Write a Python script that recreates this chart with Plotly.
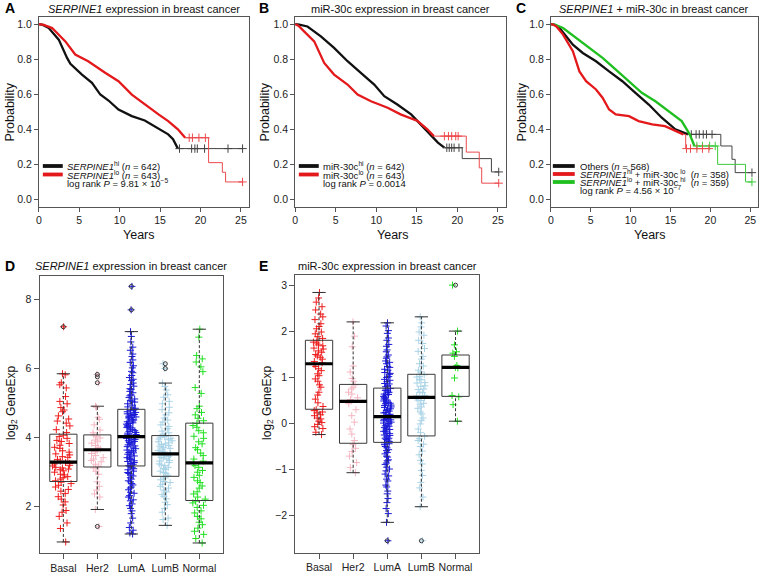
import plotly.graph_objects as go

W, H = 764, 577
FONT = "Liberation Sans, Arial, sans-serif"
RED, BLACK, GREEN = "#e3191c", "#111111", "#1fbf1f"
AX = "#555555"

# ---------------- Kaplan-Meier data ----------------
# Panel A  (SERPINE1 hi / lo)
A_hi_t = [0, 0.5, 1.23, 2.46, 3.49, 3.9, 5.33, 6.57, 7.6, 8.62, 9.85, 11.5, 13.1, 14.7, 16.0, 16.6, 17.2]
A_hi_s = [1.0, 0.995, 0.977, 0.911, 0.807, 0.773, 0.712, 0.665, 0.598, 0.564, 0.512, 0.475, 0.45, 0.409, 0.371, 0.343, 0.29]
A_hi_tail_t = [17.2, 25.2]
A_hi_tail_s = [0.29, 0.29]
A_hi_cens_t = [17.4, 18.9, 19.3, 19.6, 20.5, 23.4, 25.2]
A_hi_cens_s = [0.29, 0.29, 0.29, 0.29, 0.29, 0.29, 0.29]

A_lo_t = [0, 0.6, 1.64, 3.28, 4.5, 6.1, 8.2, 9.85, 11.5, 13.1, 14.8, 16.0, 17.2, 18.1]
A_lo_s = [1.0, 0.995, 0.977, 0.901, 0.826, 0.788, 0.722, 0.674, 0.598, 0.541, 0.485, 0.447, 0.4, 0.352]
A_lo_tail_t = [18.1, 21.0, 22.7, 23.1, 25.2]
A_lo_tail_s = [0.352, 0.21, 0.155, 0.10, 0.10]
A_lo_cens_t = [18.6, 19.0, 19.8, 20.6, 25.2]
A_lo_cens_s = [0.352, 0.352, 0.352, 0.352, 0.10]

# Panel B  (miR-30c hi / lo)
B_hi_t = [0, 0.5, 1.52, 3.17, 4.8, 6.46, 8.1, 9.75, 10.99, 12.6, 14.3, 15.5, 16.5, 17.6, 18.4]
B_hi_s = [1.0, 0.997, 0.986, 0.93, 0.864, 0.788, 0.722, 0.655, 0.589, 0.541, 0.485, 0.428, 0.38, 0.324, 0.295]
B_hi_tail_t = [18.4, 20.6, 24.2, 25.1]
B_hi_tail_s = [0.295, 0.233, 0.157, 0.157]
B_hi_cens_t = [18.7, 19.0, 19.3, 19.6, 20.2, 25.1]
B_hi_cens_s = [0.295, 0.295, 0.295, 0.295, 0.295, 0.157]

B_lo_t = [0, 0.4, 1.1, 2.35, 3.58, 4.8, 6.46, 7.7, 9.35, 11.4, 13.0, 15.1, 16.3, 17.1]
B_lo_s = [1.0, 0.99, 0.958, 0.901, 0.778, 0.712, 0.655, 0.598, 0.56, 0.523, 0.485, 0.447, 0.4, 0.361]
B_lo_tail_t = [17.1, 21.1, 22.7, 23.0, 25.1]
B_lo_tail_s = [0.361, 0.27, 0.18, 0.093, 0.093]
B_lo_cens_t = [18.4, 18.9, 19.3, 19.8, 20.1, 25.1]
B_lo_cens_s = [0.361, 0.361, 0.361, 0.361, 0.361, 0.093]

# Panel C  (combined)
C_oth_t = [0, 0.5, 1.1, 2.76, 4.0, 5.66, 7.3, 8.96, 10.6, 12.27, 13.9, 15.6, 17.2]
C_oth_s = [1.0, 0.995, 0.977, 0.882, 0.835, 0.788, 0.73, 0.674, 0.608, 0.541, 0.466, 0.4, 0.371]
C_oth_tail_t = [17.2, 21.3, 22.7, 23.1, 25.2]
C_oth_tail_s = [0.371, 0.305, 0.229, 0.153, 0.153]
C_oth_cens_t = [17.6, 18.2, 18.6, 19.1, 19.5, 20.2, 25.2]
C_oth_cens_s = [0.371, 0.371, 0.371, 0.371, 0.371, 0.371, 0.153]

C_hilo_t = [0, 0.3, 0.7, 1.53, 2.76, 3.58, 4.42, 5.66, 6.48, 7.3, 8.14, 9.8, 11.0, 12.7, 14.3, 15.6, 16.6]
C_hilo_s = [1.0, 0.997, 0.986, 0.94, 0.845, 0.73, 0.674, 0.627, 0.58, 0.513, 0.485, 0.475, 0.447, 0.428, 0.418, 0.39, 0.371]
C_hilo_tail_t = [16.6, 16.9, 19.8]
C_hilo_tail_s = [0.371, 0.29, 0.29]
C_hilo_cens_t = [17.0, 17.5, 18.3, 19.0, 19.8]
C_hilo_cens_s = [0.29, 0.29, 0.29, 0.29, 0.29]

C_lohi_t = [0, 0.5, 1.53, 3.18, 4.83, 6.48, 8.14, 9.79, 11.4, 13.1, 14.7, 16.4, 17.4, 18.0]
C_lohi_s = [1.0, 0.997, 0.977, 0.92, 0.864, 0.807, 0.74, 0.674, 0.608, 0.56, 0.503, 0.447, 0.371, 0.305]
C_lohi_tail_t = [18.0, 20.9, 24.4, 25.2]
C_lohi_tail_s = [0.305, 0.2, 0.1, 0.1]
C_lohi_cens_t = [18.3, 19.0, 19.9, 20.6, 25.2]
C_lohi_cens_s = [0.305, 0.305, 0.305, 0.305, 0.1]

# ---------------- Box plot data ----------------
subtypes = ["Basal", "Her2", "LumA", "LumB", "Normal"]
sub_colors = ["#ee1c1c", "#f4b6c2", "#1a1ad6", "#a9d3e6", "#22e022"]

# Panel D: SERPINE1 log2 expression
D_q1 = [2.72, 3.14, 3.17, 2.87, 2.17]
D_med = [3.28, 3.64, 4.02, 3.52, 3.26]
D_q3 = [4.09, 4.07, 4.81, 4.05, 4.41]
D_lo = [0.97, 1.91, 1.20, 1.45, 0.94]
D_hi = [5.84, 4.90, 7.06, 5.57, 7.13]
D_out_x = ["Basal", "Her2", "Her2", "Her2", "Her2", "LumA", "LumA", "LumB", "LumB"]
D_out_y = [7.2, 5.82, 5.75, 5.58, 1.42, 8.37, 7.69, 6.13, 5.99]

D_basal = [0.97, 1.36, 1.52, 1.71, 1.83, 1.88, 2.04, 2.13, 2.21, 2.28, 2.37, 2.44, 2.49, 2.56, 2.61, 2.66, 2.70,
           2.74, 2.79, 2.86, 2.91, 2.93, 2.99, 3.03, 3.06, 3.11, 3.13, 3.17, 3.19, 3.23, 3.24, 3.27, 3.08, 2.83,
           3.31, 3.36, 3.42, 3.44, 3.52, 3.57, 3.61, 3.68, 3.71, 3.77, 3.82, 3.88, 3.91, 3.97, 4.02, 4.06, 3.49,
           4.14, 4.22, 4.33, 4.41, 4.47, 4.53, 4.62, 4.74, 4.79, 4.86, 4.97, 5.04, 5.18, 5.43, 5.52, 5.58, 5.81,
           5.84, 7.2]
D_her2 = [1.42, 1.91, 2.27, 2.36, 2.47, 2.58, 2.71, 2.93, 3.02, 3.11, 3.16, 3.22, 3.29, 3.33, 3.37, 3.41, 3.47,
          3.53, 3.58, 3.62, 3.66, 3.71, 3.76, 3.83, 3.87, 3.92, 3.98, 4.03, 4.07, 4.13, 4.21, 4.36, 4.52, 4.58,
          4.87, 4.9, 5.58, 5.82]
D_luma = [1.2, 1.23, 1.31, 1.39, 1.52, 1.66, 1.79, 1.87, 1.94, 2.02, 2.07, 2.16, 2.19, 2.27, 2.31, 2.38, 2.41,
          2.48, 2.53, 2.56, 2.62, 2.66, 2.71, 2.74, 2.79, 2.83, 2.88, 2.91, 2.95, 2.98, 3.02, 3.06, 3.09, 3.12,
          3.15, 3.18, 3.22, 3.24, 3.27, 3.3, 3.32, 3.36, 3.38, 3.41, 3.43, 3.46, 3.49, 3.51, 3.55, 3.56, 3.6,
          3.61, 3.63, 3.67, 3.69, 3.73, 3.75, 3.78, 3.8, 3.83, 3.85, 3.88, 3.9, 3.93, 3.94, 3.97, 3.98, 4.0,
          4.01, 4.03, 4.05, 4.07, 4.08, 4.12, 4.14, 4.17, 4.19, 4.22, 4.24, 4.28, 4.29, 4.32, 4.33, 4.35, 4.38,
          4.4, 4.42, 4.45, 4.47, 4.5, 4.52, 4.56, 4.57, 4.59, 4.61, 4.63, 4.66, 4.68, 4.7, 4.72, 4.74, 4.77,
          4.79, 4.8, 4.84, 4.88, 4.93, 4.97, 5.02, 5.03, 5.07, 5.11, 5.15, 5.2, 5.23, 5.29, 5.33, 5.38, 5.41,
          5.48, 5.53, 5.57, 5.64, 5.68, 5.73, 5.79, 5.87, 5.91, 6.01, 6.07, 6.17, 6.24, 6.34, 6.41, 6.52, 6.61,
          6.76, 6.92, 7.06, 7.69, 8.37]
D_lumb = [1.45, 1.62, 1.66, 1.83, 1.94, 2.05, 2.12, 2.22, 2.29, 2.34, 2.42, 2.47, 2.53, 2.58, 2.64, 2.69, 2.72,
          2.77, 2.82, 2.86, 2.9, 2.95, 2.98, 3.02, 3.07, 3.1, 3.13, 3.18, 3.2, 3.23, 3.27, 3.31, 3.33, 3.37,
          3.4, 3.42, 3.45, 3.48, 3.5, 3.51, 3.54, 3.57, 3.59, 3.62, 3.66, 3.68, 3.71, 3.74, 3.76, 3.79, 3.81,
          3.84, 3.87, 3.9, 3.93, 3.95, 3.97, 4.0, 4.02, 4.04, 4.09, 4.13, 4.18, 4.25, 4.31, 4.36, 4.44, 4.5,
          4.56, 4.65, 4.71, 4.8, 4.87, 4.97, 5.04, 5.16, 5.23, 5.37, 5.47, 5.57, 5.99, 6.13]
D_normal = [0.94, 1.07, 1.19, 1.28, 1.37, 1.47, 1.54, 1.64, 1.71, 1.81, 1.87, 1.97, 2.03, 2.1, 2.15,
            2.21, 2.27, 2.36, 2.42, 2.53, 2.59, 2.69, 2.74, 2.84, 2.9, 2.99, 3.04, 3.13, 3.18, 3.24,
            3.31, 3.37, 3.47, 3.54, 3.64, 3.7, 3.81, 3.87, 3.97, 4.03, 4.13, 4.19, 4.29, 4.34, 4.4,
            4.48, 4.55, 4.65, 4.72, 4.83, 4.9, 5.27, 5.44, 5.9, 6.04, 6.18, 6.27, 6.37, 6.9, 7.13]

# Panel E: miR-30c log2 expression
E_q1 = [0.30, -0.44, -0.42, -0.28, 0.58]
E_med = [1.29, 0.47, 0.14, 0.56, 1.21]
E_q3 = [1.80, 0.84, 0.76, 1.06, 1.48]
E_lo = [-0.25, -1.08, -2.16, -1.82, 0.04]
E_hi = [2.84, 2.20, 2.18, 2.31, 2.00]
E_out_x = ["LumA", "LumB", "Normal"]
E_out_y = [-2.56, -2.56, 3.0]

E_basal = [-0.25, -0.2, -0.12, -0.08, -0.03, 0.01, 0.04, 0.09, 0.11, 0.16, 0.18, 0.22, 0.24, 0.27, 0.29,
           0.36, 0.44, 0.52, 0.61, 0.67, 0.78, 0.83, 0.91, 0.96, 1.03, 1.07, 1.14, 1.18, 1.23, 1.27,
           1.31, 1.34, 1.39, 1.43, 1.46, 1.49, 1.54, 1.57, 1.61, 1.63, 1.68, 1.7, 1.74, 1.76, 1.79,
           1.84, 1.88, 1.94, 1.98, 2.05, 2.1, 2.16, 2.25, 2.31, 2.37, 2.46, 2.53, 2.63, 2.72, 2.84]
E_her2 = [-1.08, -0.97, -0.86, -0.72, -0.62, -0.55, -0.47, -0.38, -0.24, -0.13, 0.02, 0.16, 0.29, 0.42,
          0.51, 0.55, 0.63, 0.67, 0.74, 0.78, 0.83, 0.91, 0.97, 1.11, 1.24, 1.66, 1.89, 2.2]
E_luma = [-2.56, -2.16, -1.97, -1.86, -1.73, -1.64, -1.54, -1.48, -1.39, -1.35, -1.26, -1.22, -1.15, -1.11,
          -1.04, -1.0, -0.96, -0.9, -0.87, -0.82, -0.8, -0.74, -0.72, -0.67, -0.64, -0.6, -0.58, -0.54,
          -0.51, -0.47, -0.45, -0.43, -0.4, -0.37, -0.36, -0.33, -0.33, -0.3, -0.27, -0.26, -0.23, -0.22,
          -0.19, -0.18, -0.15, -0.14, -0.11, -0.1, -0.07, -0.06, -0.04, -0.01, 0.0, 0.02, 0.04, 0.05, 0.07,
          0.08, 0.09, 0.11, 0.12, 0.13, 0.15, 0.18, 0.19, 0.22, 0.23, 0.26, 0.27, 0.3, 0.31, 0.34, 0.35, 0.38,
          0.39, 0.42, 0.43, 0.44, 0.46, 0.48, 0.5, 0.52, 0.54, 0.55, 0.58, 0.59, 0.62, 0.63, 0.66, 0.67,
          0.7, 0.71, 0.74, 0.75, 0.79, 0.81, 0.85, 0.86, 0.9, 0.93, 0.95, 0.99, 1.01, 1.06, 1.08, 1.1,
          1.15, 1.17, 1.21, 1.23, 1.29, 1.32, 1.35, 1.41, 1.44, 1.48, 1.55, 1.59, 1.67, 1.71, 1.8, 1.85,
          1.95, 2.01, 2.11, 2.18]
E_lumb = [-2.56, -1.82, -1.61, -1.41, -1.29, -1.14, -1.03, -0.89, -0.81, -0.69, -0.61, -0.51, -0.46, -0.38,
          -0.34, -0.29, -0.21, -0.13, -0.02, 0.06, 0.11, 0.2, 0.24, 0.32, 0.35, 0.41, 0.43, 0.49, 0.5,
          0.54, 0.55, 0.59, 0.6, 0.66, 0.67, 0.73, 0.74, 0.8, 0.81, 0.87, 0.88, 0.94, 0.95, 1.0, 1.01, 1.05,
          1.11, 1.15, 1.24, 1.29, 1.39, 1.45, 1.56, 1.62, 1.73, 1.8, 1.91, 1.98, 2.09, 2.18, 2.31]
E_normal = [0.04, 0.4, 0.57, 0.6, 0.98, 1.2, 1.21, 1.25, 1.45, 1.52, 1.55, 1.7, 2.0, 3.0]


# ---------------- helpers (positions only) ----------------
def px(x):
    return x / W


def py(y):
    return 1 - y / H


fig = go.Figure()


def km_curve(t, s, tt, ts, ct, cs, color, tailcolor, xa, ya):
    fig.add_trace(go.Scatter(x=t, y=s, mode="lines", line=dict(color=color, width=2.3),
                             xaxis=xa, yaxis=ya, showlegend=False, hoverinfo="skip"))
    fig.add_trace(go.Scatter(x=tt, y=ts, mode="lines", line=dict(color=tailcolor, width=1, shape="hv"),
                             xaxis=xa, yaxis=ya, showlegend=False, hoverinfo="skip"))
    fig.add_trace(go.Scatter(x=ct, y=cs, mode="markers",
                             marker=dict(symbol="cross-thin-open", size=6, color=tailcolor,
                                         line=dict(width=1, color=tailcolor)),
                             xaxis=xa, yaxis=ya, showlegend=False, hoverinfo="skip"))


km_curve(A_hi_t, A_hi_s, A_hi_tail_t, A_hi_tail_s, A_hi_cens_t, A_hi_cens_s, BLACK, "#444444", "x", "y")
km_curve(A_lo_t, A_lo_s, A_lo_tail_t, A_lo_tail_s, A_lo_cens_t, A_lo_cens_s, RED, "#ec4a4d", "x", "y")
km_curve(B_hi_t, B_hi_s, B_hi_tail_t, B_hi_tail_s, B_hi_cens_t, B_hi_cens_s, BLACK, "#444444", "x2", "y2")
km_curve(B_lo_t, B_lo_s, B_lo_tail_t, B_lo_tail_s, B_lo_cens_t, B_lo_cens_s, RED, "#ec4a4d", "x2", "y2")
km_curve(C_oth_t, C_oth_s, C_oth_tail_t, C_oth_tail_s, C_oth_cens_t, C_oth_cens_s, BLACK, "#444444", "x3", "y3")
km_curve(C_lohi_t, C_lohi_s, C_lohi_tail_t, C_lohi_tail_s, C_lohi_cens_t, C_lohi_cens_s, GREEN, "#3ccc3c", "x3", "y3")
km_curve(C_hilo_t, C_hilo_s, C_hilo_tail_t, C_hilo_tail_s, C_hilo_cens_t, C_hilo_cens_s, RED, "#ec4a4d", "x3", "y3")


def box_panel(groups, q1, med, q3, lo, hi, out_x, out_y, jit, xa, ya):
    wx, wy = [], []
    for c, a, b, d, e in zip(subtypes, lo, q1, q3, hi):
        wx += [c, c, None, c, c, None]
        wy += [a, b, None, d, e, None]
    fig.add_trace(go.Scatter(x=wx, y=wy, mode="lines", line=dict(color="#333333", width=1, dash="3px,2px"),
                             xaxis=xa, yaxis=ya, showlegend=False, hoverinfo="skip"))
    for c, vals, col, j in zip(subtypes, groups, sub_colors, jit):
        fig.add_trace(go.Box(y=vals, x0=c, name=c, boxpoints="all", jitter=j, pointpos=0, width=0.8,
                             line=dict(width=0, color="rgba(0,0,0,0)"), fillcolor="rgba(0,0,0,0)",
                             marker=dict(symbol="cross-thin-open", size=5, color=col, line=dict(width=1, color=col)),
                             xaxis=xa, yaxis=ya, showlegend=False, hoverinfo="skip"))
    fig.add_trace(go.Box(x=subtypes, q1=q1, median=med, q3=q3, lowerfence=q1, upperfence=q3,
                         width=0.8, whiskerwidth=0, boxpoints=False,
                         line=dict(color="#3a3a3a", width=1), fillcolor="rgba(0,0,0,0)",
                         xaxis=xa, yaxis=ya, showlegend=False, hoverinfo="skip"))
    fig.add_trace(go.Scatter(x=subtypes, y=med, mode="markers",
                             marker=dict(symbol="line-ew", size=19.5, line=dict(width=3.2, color="#000000")),
                             xaxis=xa, yaxis=ya, showlegend=False, hoverinfo="skip"))
    fig.add_trace(go.Scatter(x=subtypes + subtypes, y=lo + hi, mode="markers",
                             marker=dict(symbol="line-ew", size=9.5, line=dict(width=1, color="#333333")),
                             xaxis=xa, yaxis=ya, showlegend=False, hoverinfo="skip"))
    fig.add_trace(go.Scatter(x=out_x, y=out_y, mode="markers",
                             marker=dict(symbol="circle-open", size=4, color="#333333", line=dict(width=1)),
                             xaxis=xa, yaxis=ya, showlegend=False, hoverinfo="skip"))


box_panel([D_basal, D_her2, D_luma, D_lumb, D_normal], D_q1, D_med, D_q3, D_lo, D_hi, D_out_x, D_out_y,
          [0.85, 0.5, 0.4, 0.55, 0.5], "x4", "y4")
box_panel([E_basal, E_her2, E_luma, E_lumb, E_normal], E_q1, E_med, E_q3, E_lo, E_hi, E_out_x, E_out_y,
          [0.45, 0.4, 0.32, 0.4, 0.35], "x5", "y5")

# ---------------- axes ----------------
tickfont = dict(family=FONT, size=10.5, color="#222")


def axstyle(**kw):
    d = dict(showline=True, mirror=True, linecolor=AX, linewidth=1, ticks="outside", ticklen=4,
             tickcolor=AX, tickwidth=1, showgrid=False, zeroline=False, tickfont=tickfont, fixedrange=True)
    d.update(kw)
    return d


km_x = dict(range=[0, 26], tickvals=[0, 5, 10, 15, 20, 25])
km_y = dict(range=[-0.04, 1.04], tickvals=[0, 0.2, 0.4, 0.6, 0.8, 1.0], tickformat=".1f")

layout = dict(
    width=W, height=H, margin=dict(l=0, r=0, t=0, b=0),
    paper_bgcolor="white", plot_bgcolor="white", boxmode="overlay",
    font=dict(family=FONT, color="#222"),
    xaxis=axstyle(domain=[px(36), px(247)], anchor="y", **km_x),
    yaxis=axstyle(domain=[py(206.5), py(17)], anchor="x", **km_y),
    xaxis2=axstyle(domain=[px(293.3), px(505)], anchor="y2", **km_x),
    yaxis2=axstyle(domain=[py(206.5), py(17)], anchor="x2", **km_y),
    xaxis3=axstyle(domain=[px(550), px(758.3)], anchor="y3", **km_x),
    yaxis3=axstyle(domain=[py(206.5), py(17)], anchor="x3", **km_y),
    xaxis4=axstyle(domain=[px(36.7), px(221)], anchor="y4", type="category", categoryorder="array",
                   categoryarray=subtypes, range=[-0.7, 4.7], ticklen=5),
    yaxis4=axstyle(domain=[py(553), py(276)], anchor="x4", range=[0.65, 8.67], tickvals=[2, 4, 6, 8], ticklen=5),
    xaxis5=axstyle(domain=[px(293.3), px(478.3)], anchor="y5", type="category", categoryorder="array",
                   categoryarray=subtypes, range=[-0.7, 4.7], ticklen=5),
    yaxis5=axstyle(domain=[py(552.7), py(275)], anchor="x5", range=[-2.82, 3.22], tickvals=[-2, -1, 0, 1, 2, 3],
                   ticklen=5),
)
fig.update_layout(**layout)

# ---------------- text ----------------
ann = []


def text(x, y, s, size, **kw):
    d = dict(x=px(x), y=py(y), xref="paper", yref="paper", text=s, showarrow=False,
             font=dict(family=FONT, size=size, color=kw.pop("color", "#111")), xanchor=kw.pop("xanchor", "center"),
             yanchor=kw.pop("yanchor", "middle"))
    d.update(kw)
    ann.append(d)


# panel letters
for lx, ly, L in [(7, 8, "A"), (262, 8, "B"), (520, 8, "C"), (7, 266, "D"), (262, 266, "E")]:
    text(lx, ly, "<b>%s</b>" % L, 14, color="#000")

# titles
text(141.5, 9, "<i>SERPINE1</i> expression in breast cancer", 11)
text(399, 9, "miR-30c expression in breast cancer", 11)
text(654, 9, "<i>SERPINE1</i> + miR-30c in breast cancer", 11)
text(129, 266, "<i>SERPINE1</i> expression in breast cancer", 11)
text(386, 266, "miR-30c expression in breast cancer", 11)

# axis titles
for x in (137, 392, 650):
    text(x, 235, "Years", 12.5)
for x in (7.5, 263.5, 521.5):
    text(x, 112, "Probability", 12.5, textangle=-90)
text(9, 403, "log<sub>2</sub> GeneExp", 12, textangle=-90)
text(266, 403, "log<sub>2</sub> GeneExp", 12, textangle=-90)

# legends (keys + labels)
shapes = []


def key(x0, x1, y, color):
    shapes.append(dict(type="line", xref="paper", yref="paper", x0=px(x0), x1=px(x1), y0=py(y), y1=py(y),
                       line=dict(color=color, width=3.8)))


LF = 9.5
key(40, 60, 166, BLACK)
key(40, 60, 174.5, RED)
text(62, 166, "<i>SERPINE1</i><sup>hi</sup> (<i>n</i> = 642)", LF, xanchor="left")
text(62, 174.5, "<i>SERPINE1</i><sup>lo</sup> (<i>n</i> = 643)", LF, xanchor="left")
text(62, 183, "log rank <i>P</i> = 9.81 × 10<sup>−5</sup>", LF, xanchor="left")

key(297, 317, 166, BLACK)
key(297, 317, 174.5, RED)
text(319, 166, "miR-30c<sup>hi</sup> (<i>n</i> = 642)", LF, xanchor="left")
text(319, 174.5, "miR-30c<sup>lo</sup> (<i>n</i> = 643)", LF, xanchor="left")
text(319, 183, "log rank <i>P</i> = 0.0014", LF, xanchor="left")

key(552, 574, 166, BLACK)
key(552, 574, 174, RED)
key(552, 574, 182, GREEN)
text(577, 166, "Others (<i>n</i> = 568)", LF, xanchor="left")
text(577, 174, "<i>SERPINE1</i><sup>hi</sup> + miR-30c<sup> lo</sup>  (<i>n</i> = 358)", LF, xanchor="left")
text(577, 182, "<i>SERPINE1</i><sup>lo</sup> + miR-30c<sup> hi</sup>  (<i>n</i> = 359)", LF, xanchor="left")
text(577, 190, "log rank <i>P</i> = 4.56 × 10<sup>−7</sup>", LF, xanchor="left")

fig.update_layout(annotations=ann, shapes=shapes)
fig.write_html("out.html", config={"displayModeBar": False},
               post_script="document.body.style.margin='0px';document.body.style.overflow='hidden';")
